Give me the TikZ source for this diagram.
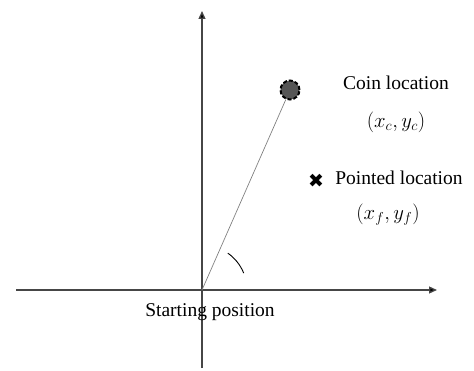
\documentclass[tikz,border=0pt]{standalone}
\usepackage{fontspec}
\setmainfont{Liberation Serif}
\newfontfamily\symfont{DejaVu Sans}
\usetikzlibrary{arrows.meta, positioning}
\definecolor{axisgray}{RGB}{70,70,70}
\definecolor{coingray}{RGB}{85,85,85}

\begin{document}
\begin{tikzpicture}[
        x=1pt, y=1pt,
        axis/.style={draw=axisgray, line width=1.3pt, -{Triangle[length=8pt, width=7pt, fill=black]}},
        coin/.style={circle, draw=black, fill=coingray, dashed, dash pattern=on 4pt off 2pt, line width=2pt, minimum size=19pt, inner sep=0pt},
        label/.style={font=\fontsize{19.5}{22}\selectfont},
        mathlabel/.style={font=\fontsize{21}{24}\selectfont},
        ray/.style={draw=gray, line width=0.7pt}
    ]
        \useasboundingbox (0,0) rectangle (474,370);

        % Axes
        \coordinate (origin) at (202,80);
        \coordinate (xstart) at (16,80);
        \coordinate (xend) at (437,80);
        \coordinate (ystart) at (202,2);
        \coordinate (yend) at (202,359);
        \draw[axis] (xstart) -- (xend);
        \draw[axis] (ystart) -- (yend);

        % Coin
        \node[coin] (coin) at (290,280) {};
        \draw[ray] (origin) -- (coin);
        \draw[line width=0.9pt] ([shift=(55:45)]origin) arc (55:22:45);

        % Labels
        \node[label] (coinlabel) at (396,287) {Coin location};
        \node[mathlabel] (coinpos) at (396,248) {$(x_c, y_c)$};
        \node[font=\symfont\fontsize{19}{20}\selectfont, inner sep=0pt] (cross) at (316,189) {✖};
        \node[label] (pointlabel) at (399,192) {Pointed location};
        \node[mathlabel] (pointpos) at (388,155) {$(x_f, y_f)$};
        \node[label] (startlabel) at (210,58) {Starting position};

    \end{tikzpicture}
\end{document}
